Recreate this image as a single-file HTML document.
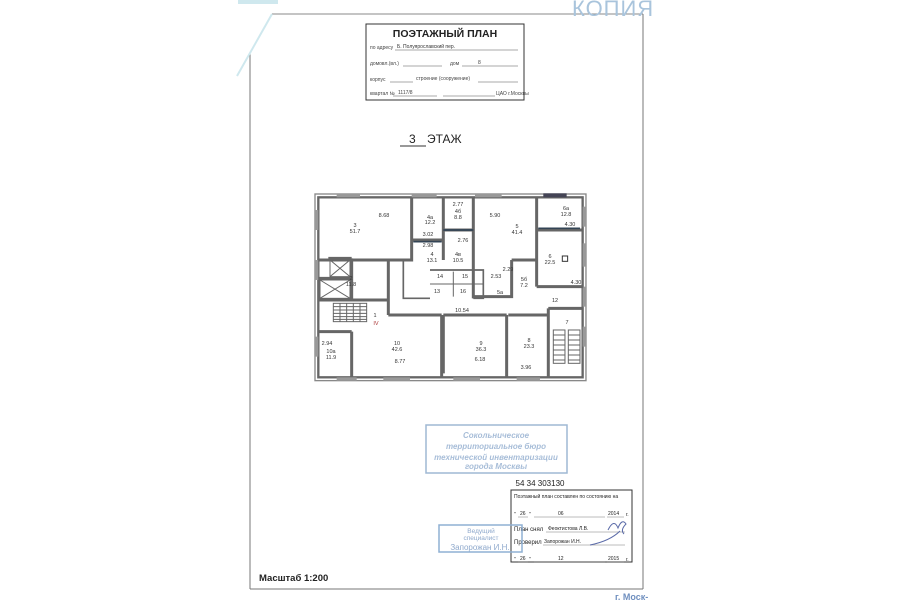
<!DOCTYPE html>
<html><head><meta charset="utf-8"><style>
html,body{margin:0;padding:0;background:#fff;width:900px;height:604px;overflow:hidden}
svg{display:block}
text{font-family:"Liberation Sans",sans-serif}
</style></head><body>
<svg width="900" height="604" viewBox="0 0 900 604" xmlns="http://www.w3.org/2000/svg">
<line x1="272" y1="14" x2="643" y2="14" stroke="#888" stroke-width="1"/>
<line x1="250" y1="53" x2="250" y2="589" stroke="#777" stroke-width="1"/>
<line x1="643" y1="14" x2="643" y2="589" stroke="#777" stroke-width="1"/>
<line x1="250" y1="589" x2="643" y2="589" stroke="#777" stroke-width="1"/>
<line x1="272" y1="14" x2="237" y2="76" stroke="#cfe8ee" stroke-width="2"/>
<rect x="238" y="0" width="40" height="4" fill="#cfe8ee"/>
<text x="572" y="16" font-size="22" fill="#a9c4dc" letter-spacing="1">КОПИЯ</text>

<rect x="366" y="24" width="158" height="76" fill="none" stroke="#333" stroke-width="1"/>
<text x="445" y="37" font-size="10.5" font-weight="bold" text-anchor="middle" fill="#222">ПОЭТАЖНЫЙ ПЛАН</text>
<g font-size="5" fill="#444">
<text x="370" y="49">по адресу</text><text x="397" y="48" fill="#333">Б. Полуярославский пер.</text>
<line x1="395" y1="50" x2="518" y2="50" stroke="#555" stroke-width="0.5"/>
<text x="370" y="65">домовл.(вл.)</text><text x="450" y="65">дом</text><text x="478" y="64">8</text>
<line x1="403" y1="66" x2="442" y2="66" stroke="#555" stroke-width="0.5"/>
<line x1="462" y1="66" x2="518" y2="66" stroke="#555" stroke-width="0.5"/>
<text x="370" y="81">корпус</text><text x="416" y="80">строение (сооружение)</text>
<line x1="390" y1="82" x2="413" y2="82" stroke="#555" stroke-width="0.5"/>
<line x1="478" y1="82" x2="518" y2="82" stroke="#555" stroke-width="0.5"/>
<text x="370" y="95">квартал №</text><text x="398" y="94">1117/8</text><text x="496" y="95">ЦАО г.Москвы</text>
<line x1="393" y1="96" x2="437" y2="96" stroke="#555" stroke-width="0.5"/>
<line x1="443" y1="96" x2="495" y2="96" stroke="#555" stroke-width="0.5"/>
</g>

<text x="409" y="143" font-size="12" fill="#222">3</text>
<line x1="400" y1="146" x2="426" y2="146" stroke="#333" stroke-width="1"/>
<text x="427" y="143" font-size="12" fill="#222">ЭТАЖ</text>

<g transform="translate(300,180) scale(0.3333)" fill="none" stroke="#666" stroke-width="9" stroke-linejoin="miter">
<rect x="45" y="42" width="813" height="560" stroke-width="4" stroke="#888"/>
<rect x="55" y="52" width="793" height="540" stroke-width="7"/>
<g fill="#999" stroke="none">
<rect x="110" y="42" width="70" height="10"/><rect x="335" y="42" width="75" height="10"/><rect x="525" y="42" width="80" height="10"/><rect x="730" y="40" width="70" height="12" fill="#445"/>
<rect x="848" y="80" width="10" height="60"/><rect x="848" y="190" width="10" height="70"/><rect x="848" y="320" width="10" height="60"/><rect x="848" y="440" width="10" height="60"/>
<rect x="45" y="90" width="10" height="60"/><rect x="45" y="240" width="10" height="60"/><rect x="45" y="470" width="10" height="60"/>
<rect x="110" y="592" width="60" height="10"/><rect x="250" y="592" width="80" height="10"/><rect x="460" y="592" width="80" height="10"/><rect x="650" y="592" width="70" height="10"/>
</g>
<path d="M335 55 V240 H55"/>
<path d="M335 180 H430 M430 55 V240 M430 150 H520 M520 55 V355"/>
<path d="M710 55 V320 M710 150 H850 M710 320 H850 M635 240 H710 M635 240 V350 H520"/>
<path d="M155 235 V360 M85 235 H155 M55 295 H155 M55 360 H265 V405 M265 240 V360"/>
<path d="M265 405 H425 M425 405 V590 M155 455 V590 M55 455 H155 M430 405 H620 M430 405 V580 M620 405 V590 M625 405 H745 M745 385 V590 M745 385 H850"/>
<path d="M310 240 V355 H390 M390 270 H550 V355 H520" stroke-width="5"/>
<path d="M460 275 V350 M390 312 H550" stroke-width="3"/>
<path d="M340 185 H425 M430 150 H520" stroke="#345" stroke-width="5"/>
<path d="M715 145 H840" stroke="#345" stroke-width="5"/>
<rect x="90" y="240" width="60" height="50" stroke-width="3"/><path d="M90 240 L150 290 M150 240 L90 290" stroke-width="3"/>
<rect x="60" y="300" width="90" height="55" stroke-width="3"/><path d="M60 300 L150 355 M150 300 L60 355" stroke-width="3"/>
<g stroke-width="3"><rect x="100" y="370" width="100" height="55"/>
<path d="M100 380 H200 M100 390 H200 M100 400 H200 M100 410 H200 M100 418 H200 M120 370 V425 M140 370 V425 M160 370 V425 M180 370 V425"/></g>
<g stroke-width="3"><rect x="760" y="450" width="35" height="100"/><rect x="805" y="450" width="35" height="100"/>
<path d="M760 465 H795 M760 480 H795 M760 495 H795 M760 510 H795 M760 525 H795 M760 540 H795 M805 465 H840 M805 480 H840 M805 495 H840 M805 510 H840 M805 525 H840 M805 540 H840"/></g>
<rect x="787" y="228" width="16" height="16" stroke-width="3" stroke="#333"/>
</g>
<g font-size="5.5" fill="#333" text-anchor="middle">
<text x="384" y="217">8.68</text><text x="355" y="227">3</text><text x="355" y="233">51.7</text>
<text x="430" y="219">4а</text><text x="430" y="224">12.2</text><text x="458" y="206">2.77</text><text x="458" y="213">4б</text><text x="458" y="219">8.8</text>
<text x="495" y="217">5.90</text><text x="517" y="228">5</text><text x="517" y="234">41.4</text>
<text x="566" y="210">6а</text><text x="566" y="216">12.8</text><text x="570" y="226">4.30</text>
<text x="428" y="236">3.02</text><text x="428" y="247">2.98</text><text x="432" y="256">4</text><text x="432" y="262">13.1</text>
<text x="463" y="242">2.76</text><text x="458" y="256">4в</text><text x="458" y="262">10.5</text>
<text x="550" y="258">6</text><text x="550" y="264">22.5</text><text x="576" y="284">4.30</text>
<text x="508" y="271">2.29</text><text x="524" y="281">5б</text><text x="524" y="287">7.2</text><text x="496" y="278">2.53</text>
<text x="351" y="280">2</text><text x="351" y="286">11.8</text>
<text x="375" y="317">1</text><text x="376" y="325" fill="#a33">IV</text>
<text x="462" y="312">10.54</text><text x="555" y="302">12</text><text x="567" y="324">7</text>
<text x="327" y="345">2.94</text><text x="331" y="353">10а</text><text x="331" y="359">11.9</text>
<text x="397" y="345">10</text><text x="397" y="351">42.6</text><text x="400" y="363">8.77</text>
<text x="481" y="345">9</text><text x="481" y="351">36.3</text><text x="480" y="361">6.18</text>
<text x="529" y="342">8</text><text x="529" y="348">23.3</text><text x="526" y="369">3.96</text>
<text x="440" y="278">14</text><text x="465" y="278">15</text><text x="437" y="293">13</text><text x="463" y="293">16</text><text x="500" y="294">5а</text>
</g>

<rect x="426" y="425" width="141" height="48" fill="none" stroke="#9fb8d4" stroke-width="1.5"/>
<g font-size="8" font-style="italic" font-weight="bold" fill="#a7bdd8" text-anchor="middle">
<text x="496" y="438">Сокольническое</text><text x="496" y="449">территориальное бюро</text><text x="496" y="460">технической инвентаризации</text><text x="496" y="469">города Москвы</text></g>
<text x="540" y="486" font-size="8" fill="#222" text-anchor="middle">54 34 303130</text>

<rect x="511" y="490" width="121" height="72" fill="none" stroke="#333" stroke-width="1"/>
<g font-size="5" fill="#222">
<text x="514" y="498">Поэтажный план составлен по состоянию на</text>
<text x="514" y="516">"</text><text x="520" y="515">26</text><text x="529" y="516">"</text><text x="558" y="515">06</text><text x="608" y="515">2014</text><text x="626" y="516">г.</text>
<text x="514" y="531" font-size="6">План снял</text><text x="548" y="530">Феоктистова Л.В.</text>
<text x="514" y="544" font-size="6">Проверил</text><text x="544" y="543">Запорожан И.Н.</text>
<text x="514" y="561">"</text><text x="520" y="560">26</text><text x="529" y="561">"</text><text x="558" y="560">12</text><text x="608" y="560">2015</text><text x="626" y="561">г.</text>
<line x1="518" y1="517" x2="528" y2="517" stroke="#555" stroke-width="0.4"/>
<line x1="534" y1="517" x2="605" y2="517" stroke="#555" stroke-width="0.4"/>
<line x1="607" y1="517" x2="624" y2="517" stroke="#555" stroke-width="0.4"/>
<line x1="546" y1="532" x2="625" y2="532" stroke="#555" stroke-width="0.4"/>
<line x1="543" y1="545" x2="625" y2="545" stroke="#555" stroke-width="0.4"/>
<line x1="518" y1="562" x2="528" y2="562" stroke="#555" stroke-width="0.4"/>
<line x1="534" y1="562" x2="605" y2="562" stroke="#555" stroke-width="0.4"/>
<line x1="607" y1="562" x2="624" y2="562" stroke="#555" stroke-width="0.4"/>
</g>
<path d="M608 530 q6 -12 10 -2 q4 -10 8 -4 q-6 6 -2 10 M590 545 q20 -4 30 -14" stroke="#5a6aa8" stroke-width="1" fill="none"/>

<rect x="439" y="525" width="83" height="27" fill="none" stroke="#8fb0d4" stroke-width="1.5"/>
<g fill="#8fa9cc" text-anchor="middle"><text x="481" y="533" font-size="6.5">Ведущий</text><text x="481" y="540" font-size="6.5">специалист</text><text x="480" y="550" font-size="8">Запорожан И.Н.</text></g>

<text x="259" y="581" font-size="9.5" font-weight="bold" fill="#222">Масштаб 1:200</text>
<text x="615" y="600" font-size="9" font-weight="bold" fill="#6f8fbf">г. Моск-</text>
</svg>
</body></html>
